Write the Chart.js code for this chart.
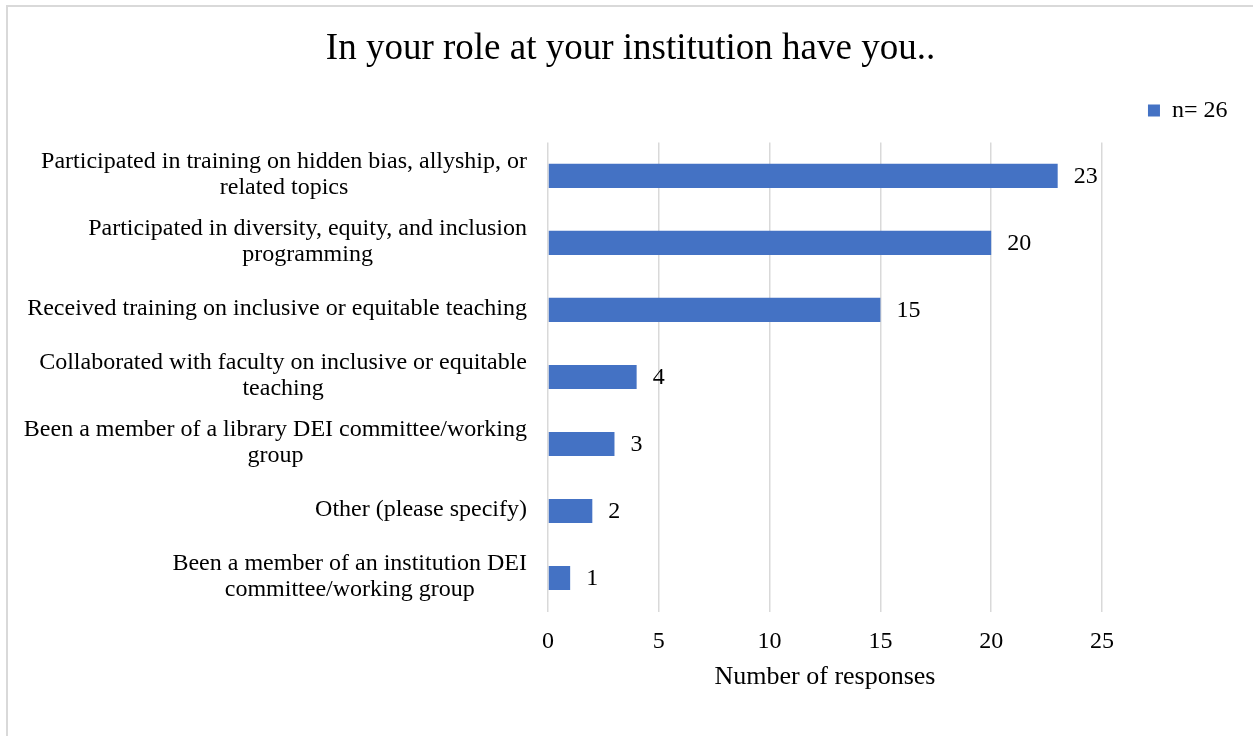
<!DOCTYPE html>
<html>
<head>
<meta charset="utf-8">
<script src="https://cdn.jsdelivr.net/npm/chart.js@4.4.1/dist/chart.umd.min.js"></script>
<style>
  html, body { margin: 0; padding: 0; background: #fff; }
  #wrap { position: relative; width: 1253px; height: 736px; overflow: hidden; }
  #frame { position: absolute; left: 6px; top: 5px; width: 1300px; height: 800px; border-left: 2px solid #d9d9d9; border-top: 2px solid #d9d9d9; }
  canvas { position: absolute; left: 0; top: 0; }
</style>
</head>
<body>
<div id="wrap">
  <div id="frame"></div>
  <canvas id="chart" width="1253" height="736"></canvas>
</div>
<script>
const chartTitle = 'In your role at your institution have you..'
const seriesName = 'n= 26'
const axisTitle = 'Number of responses'

const categories = [
  ['Participated in training on hidden bias, allyship, or', 'related topics'],
  ['Participated in diversity, equity, and inclusion', 'programming'],
  'Received training on inclusive or equitable teaching',
  ['Collaborated with faculty on inclusive or equitable', 'teaching'],
  ['Been a member of a library DEI committee/working', 'group'],
  'Other (please specify)',
  ['Been a member of an institution DEI', 'committee/working group']
]
const responses = [23, 20, 15, 4, 3, 2, 1]
const xTicks = [0, 5, 10, 15, 20, 25]

const serif = "'Times New Roman', 'Liberation Serif', serif"

// numbers at the end of each bar
const valueLabels = {
  id: 'valueLabels',
  afterDatasetsDraw(chart) {
    const { ctx } = chart
    const meta = chart.getDatasetMeta(0)
    ctx.save()
    ctx.font = `24px ${serif}`
    ctx.fillStyle = '#000'
    ctx.textAlign = 'left'
    ctx.textBaseline = 'middle'
    meta.data.forEach((bar, i) => {
      ctx.fillText(String(responses[i]), bar.x + 16, bar.y + 1)
    })
    ctx.restore()
  }
}

// category labels: each label centred as a block, block right-aligned to the axis
const categoryLabels = {
  id: 'categoryLabels',
  afterDraw(chart) {
    const { ctx, chartArea } = chart
    const yScale = chart.scales.y
    const right = chartArea.left - 21
    const lineGap = 26
    ctx.save()
    ctx.font = `24px ${serif}`
    ctx.fillStyle = '#000'
    ctx.textAlign = 'center'
    ctx.textBaseline = 'middle'
    categories.forEach((label, i) => {
      const lines = Array.isArray(label) ? label : [label]
      const widest = Math.max(...lines.map(l => ctx.measureText(l).width))
      const cx = right - widest / 2
      const cy = yScale.getPixelForTick(i)
      lines.forEach((line, j) => {
        ctx.fillText(line, cx, cy + (j - (lines.length - 1) / 2) * lineGap - 1)
      })
    })
    ctx.restore()
  }
}

Chart.defaults.color = '#000'

// empty axes used only to reserve space around the plot
const spacer = (axis, position, size) => ({
  type: 'linear',
  axis,
  position,
  ticks: { display: false },
  grid: { display: false },
  border: { display: false },
  afterFit: s => {
    if (axis === 'x') s.height = size
    else s.width = size
  }
})

new Chart(document.getElementById('chart'), {
  type: 'bar',
  data: {
    labels: categories,
    datasets: [{
      label: seriesName,
      data: responses,
      backgroundColor: '#4472C4',
      barPercentage: 0.36,
      categoryPercentage: 1
    }]
  },
  options: {
    responsive: false,
    animation: false,
    indexAxis: 'y',
    layout: { padding: { top: 0, right: 14, bottom: 0, left: 22 } },
    plugins: {
      title: {
        display: true,
        text: chartTitle,
        color: '#000',
        font: { family: serif, size: 37, weight: 'normal', lineHeight: 1.2 },
        padding: { top: 27, bottom: 15.5 }
      },
      legend: {
        position: 'top',
        align: 'end',
        labels: {
          color: '#000',
          font: { family: serif, size: 24 },
          boxWidth: 12,
          boxHeight: 12,
          padding: 11.5
        }
      },
      tooltip: { enabled: false }
    },
    scales: {
      x: {
        min: xTicks[0],
        max: xTicks[xTicks.length - 1],
        ticks: {
          stepSize: xTicks[1] - xTicks[0],
          padding: 16,
          color: '#000',
          font: { family: serif, size: 24 }
        },
        grid: { color: '#d9d9d9', lineWidth: 1.5, drawTicks: false },
        border: { display: false },
        title: {
          display: true,
          text: axisTitle,
          color: '#000',
          font: { family: serif, size: 26 },
          padding: { top: 0, bottom: 43 }
        },
        afterFit: s => { s.height = 124.5 }
      },
      y: {
        ticks: { display: false },
        grid: { display: false },
        border: { display: false },
        afterFit: s => { s.width = 526 }
      },
      rightSpace: spacer('y', 'right', 137),
      topSpace: spacer('x', 'top', 10)
    }
  },
  plugins: [valueLabels, categoryLabels]
})
</script>
</body>
</html>
